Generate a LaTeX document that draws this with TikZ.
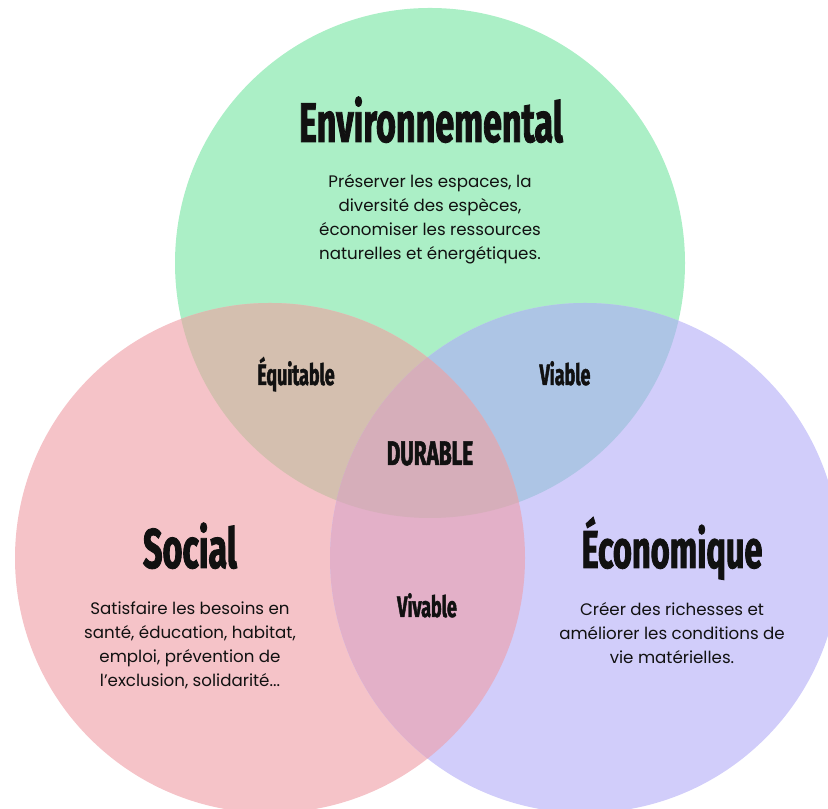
\documentclass[tikz,border=0pt]{standalone}
\usepackage{fontspec}
\setmainfont{Poppins}
\newfontfamily\headfont{Fira Sans}[FakeStretch=0.61, BoldFeatures={FakeBold=1.5}]
\definecolor{envfill}{HTML}{ABEFC6}
\definecolor{socfill}{HTML}{F5C3C8}
\definecolor{ecofill}{HTML}{D1CDFA}
\definecolor{equfill}{HTML}{D4BFAF}
\definecolor{viafill}{HTML}{ADC5E5}
\definecolor{vivfill}{HTML}{E3B0C8}
\definecolor{durfill}{HTML}{D6AEBA}
\definecolor{ink}{HTML}{111111}

\tikzset{
  title/.style={anchor=base, text=ink, font=\headfont\bfseries\fontsize{42}{44}\selectfont},
  zone/.style={anchor=base, text=ink, font=\headfont\bfseries\fontsize{22}{24}\selectfont},
  blurb/.style={anchor=center, align=center, text=ink, font=\fontsize{12.5}{18}\selectfont}
}

\begin{document}
\begin{tikzpicture}[x=0.75pt,y=0.75pt]
  \useasboundingbox (0,0) rectangle (828,809);

  % circle centres
  \coordinate (env) at (430,546);
  \coordinate (soc) at (270,251);
  \coordinate (eco) at (585,251);

  \fill[envfill] (env) circle (255);
  \fill[socfill] (soc) circle (255);
  \fill[ecofill] (eco) circle (255);

  % overlaps
  \begin{scope}
    \clip (env) circle (255);
    \fill[equfill] (soc) circle (255);
    \fill[viafill] (eco) circle (255);
  \end{scope}
  \begin{scope}
    \clip (soc) circle (255);
    \fill[vivfill] (eco) circle (255);
  \end{scope}
  \begin{scope}
    \clip (env) circle (255);
    \clip (soc) circle (255);
    \fill[durfill] (eco) circle (255);
  \end{scope}

  % titles
  \node[title] (envtitle) at (431,667) {Environnemental};
  \node[title] (soctitle) at (190,241) {Social};
  \node[title, font=\headfont\bfseries\fontsize{40}{42}\selectfont] (ecotitle) at (672,241) {Économique};

  \node[blurb] (envtext) at (430,590) {Préserver les espaces, la\\diversité des espèces,\\économiser les ressources\\naturelles et énergétiques.};
  \node[blurb] (soctext) at (190,164) {Satisfaire les besoins en\\santé, éducation, habitat,\\emploi, prévention de\\l’exclusion, solidarité...};
  \node[blurb] (ecotext) at (672,176) {Créer des richesses et\\améliorer les conditions de\\vie matérielles.};

  % overlap labels
  \node[zone] (equitable) at (296,424) {Équitable};
  \node[zone] (viable) at (565,424) {Viable};
  \node[zone, font=\headfont\bfseries\fontsize{25.5}{27}\selectfont] (durable) at (430,344) {DURABLE};
  \node[zone] (vivable) at (427,192) {Vivable};
\end{tikzpicture}
\end{document}
